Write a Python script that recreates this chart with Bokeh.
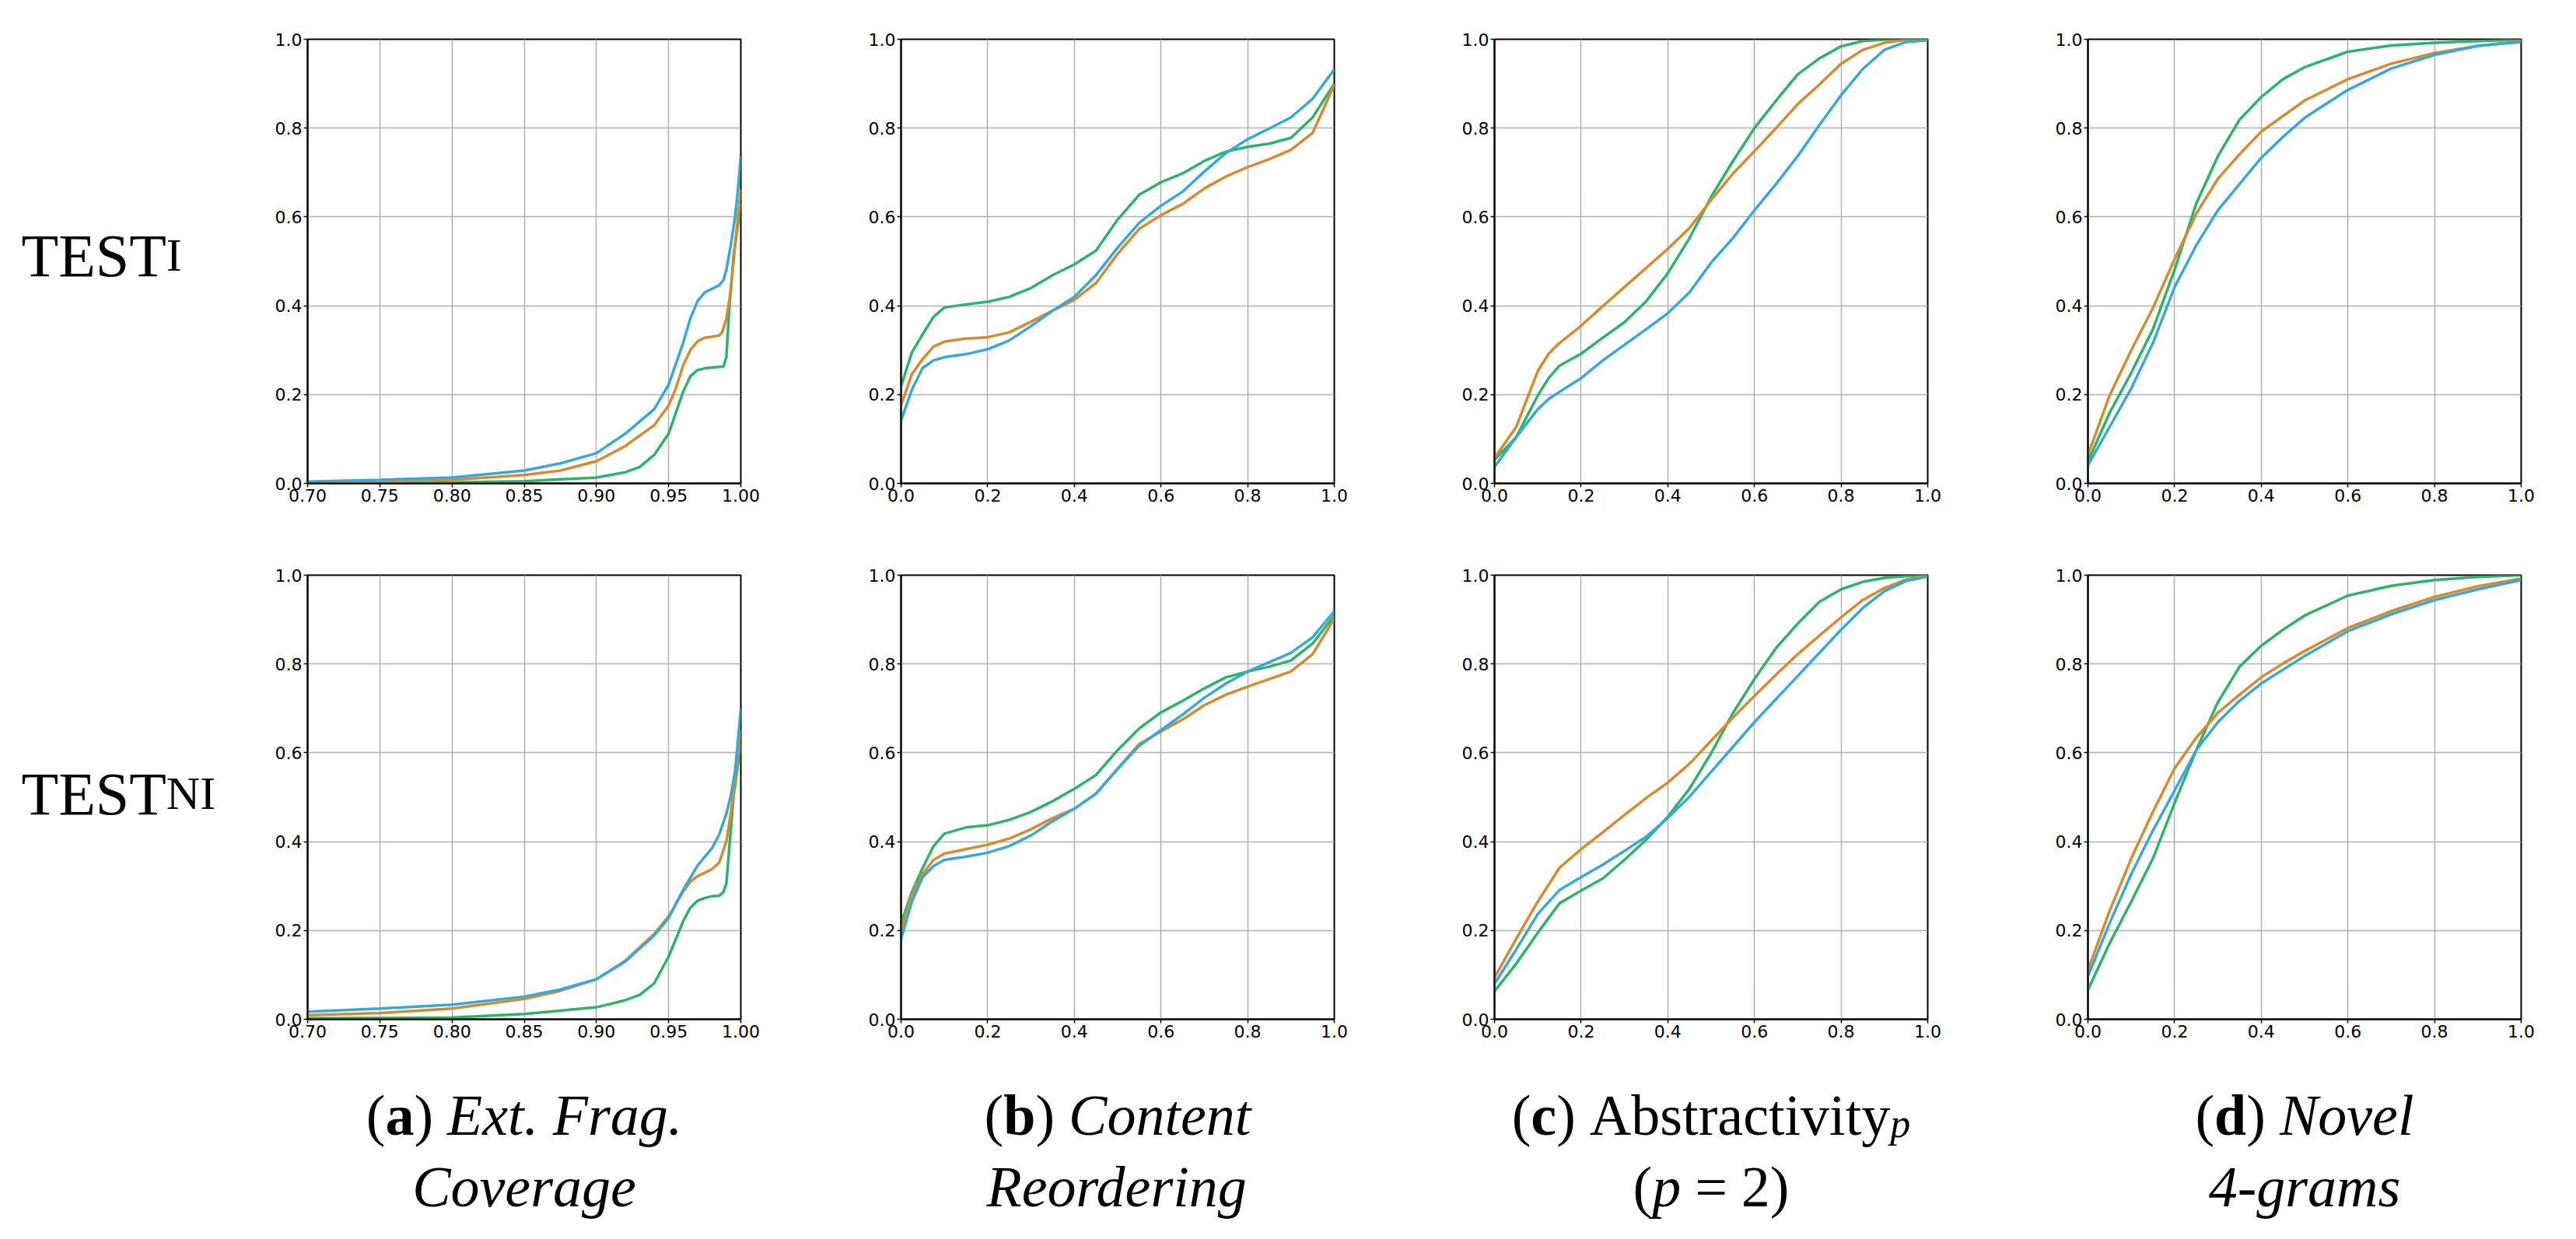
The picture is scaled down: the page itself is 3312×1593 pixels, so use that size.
from bokeh.plotting import figure
from bokeh.layouts import column, row
from bokeh.models import Range1d, FixedTicker, Label, NumeralTickFormatter
from bokeh.embed import file_html
from bokeh.resources import INLINE

# ---------------- data ----------------
ROW_LABELS = [("TEST", "I"), ("TEST", "NI")]

# (a) Ext. Frag. Coverage, TEST_I
a1_green_x = [0.70, 0.80, 0.85, 0.875, 0.90, 0.92, 0.93, 0.94, 0.95, 0.955, 0.96, 0.965, 0.97, 0.975, 0.98, 0.988, 0.99, 0.992, 0.995, 1.0]
a1_green_y = [0.0, 0.002, 0.005, 0.009, 0.013, 0.025, 0.037, 0.064, 0.112, 0.159, 0.206, 0.241, 0.255, 0.259, 0.261, 0.263, 0.285, 0.395, 0.513, 0.631]
a1_orange_x = [0.70, 0.75, 0.80, 0.85, 0.875, 0.90, 0.92, 0.94, 0.95, 0.955, 0.96, 0.965, 0.97, 0.975, 0.98, 0.985, 0.987, 0.99, 0.993, 0.996, 1.0]
a1_orange_y = [0.0, 0.003, 0.008, 0.019, 0.029, 0.050, 0.084, 0.131, 0.175, 0.214, 0.265, 0.300, 0.320, 0.328, 0.330, 0.333, 0.340, 0.371, 0.434, 0.536, 0.662]
a1_blue_x = [0.70, 0.75, 0.80, 0.85, 0.875, 0.90, 0.92, 0.94, 0.95, 0.96, 0.965, 0.97, 0.975, 0.98, 0.985, 0.988, 0.99, 0.993, 0.996, 0.998, 1.0]
a1_blue_y = [0.004, 0.008, 0.013, 0.029, 0.045, 0.068, 0.112, 0.167, 0.222, 0.316, 0.371, 0.410, 0.430, 0.438, 0.446, 0.458, 0.481, 0.536, 0.599, 0.662, 0.737]

# (a) Ext. Frag. Coverage, TEST_NI
a2_green_x = [0.70, 0.80, 0.85, 0.90, 0.92, 0.93, 0.94, 0.95, 0.96, 0.965, 0.97, 0.975, 0.98, 0.985, 0.988, 0.99, 0.992, 0.995, 1.0]
a2_green_y = [0.002, 0.004, 0.012, 0.027, 0.043, 0.055, 0.081, 0.141, 0.220, 0.251, 0.267, 0.273, 0.277, 0.278, 0.287, 0.306, 0.385, 0.503, 0.621]
a2_orange_x = [0.70, 0.75, 0.80, 0.85, 0.875, 0.90, 0.92, 0.94, 0.95, 0.96, 0.965, 0.97, 0.975, 0.98, 0.985, 0.99, 0.993, 0.996, 1.0]
a2_orange_y = [0.009, 0.014, 0.024, 0.046, 0.064, 0.090, 0.132, 0.192, 0.232, 0.287, 0.310, 0.322, 0.330, 0.338, 0.353, 0.401, 0.463, 0.542, 0.652]
a2_blue_x = [0.70, 0.75, 0.80, 0.85, 0.875, 0.90, 0.92, 0.94, 0.95, 0.96, 0.97, 0.98, 0.985, 0.99, 0.993, 0.996, 1.0]
a2_blue_y = [0.017, 0.024, 0.033, 0.051, 0.067, 0.090, 0.130, 0.189, 0.228, 0.291, 0.346, 0.385, 0.416, 0.463, 0.503, 0.558, 0.699]

# (b) Content Reordering
b_x = [0, 0.025, 0.05, 0.075, 0.1, 0.15, 0.2, 0.25, 0.3, 0.35, 0.4, 0.45, 0.5, 0.55, 0.6, 0.65, 0.7, 0.75, 0.8, 0.85, 0.9, 0.95, 1.0]
b1_green = [0.218, 0.295, 0.336, 0.375, 0.396, 0.403, 0.409, 0.420, 0.440, 0.469, 0.493, 0.524, 0.594, 0.650, 0.678, 0.698, 0.726, 0.747, 0.758, 0.765, 0.778, 0.824, 0.900]
b1_orange = [0.176, 0.246, 0.280, 0.308, 0.319, 0.326, 0.329, 0.340, 0.364, 0.389, 0.413, 0.451, 0.517, 0.573, 0.604, 0.629, 0.664, 0.691, 0.712, 0.730, 0.751, 0.789, 0.897]
b1_blue = [0.141, 0.211, 0.260, 0.277, 0.284, 0.291, 0.302, 0.322, 0.354, 0.389, 0.420, 0.469, 0.531, 0.587, 0.625, 0.657, 0.702, 0.744, 0.775, 0.799, 0.824, 0.866, 0.932]
b2_green = [0.216, 0.286, 0.341, 0.390, 0.418, 0.432, 0.437, 0.449, 0.467, 0.491, 0.519, 0.550, 0.606, 0.655, 0.691, 0.717, 0.745, 0.770, 0.783, 0.794, 0.808, 0.846, 0.909]
b2_orange = [0.202, 0.279, 0.327, 0.359, 0.373, 0.383, 0.393, 0.407, 0.428, 0.453, 0.474, 0.508, 0.564, 0.620, 0.648, 0.675, 0.707, 0.731, 0.749, 0.766, 0.783, 0.822, 0.902]
b2_blue = [0.181, 0.265, 0.320, 0.345, 0.359, 0.366, 0.375, 0.390, 0.414, 0.446, 0.474, 0.508, 0.564, 0.616, 0.651, 0.686, 0.724, 0.756, 0.783, 0.804, 0.825, 0.860, 0.919]

# (c) Abstractivity_p (p = 2)
c1_x = [0, 0.05, 0.1, 0.125, 0.15, 0.2, 0.25, 0.3, 0.35, 0.4, 0.45, 0.5, 0.55, 0.6, 0.65, 0.7, 0.75, 0.8, 0.85, 0.9, 0.95, 1.0]
c1_green = [0.053, 0.104, 0.198, 0.237, 0.265, 0.292, 0.328, 0.363, 0.410, 0.473, 0.552, 0.645, 0.725, 0.800, 0.862, 0.921, 0.957, 0.984, 0.996, 0.999, 1.0, 1.0]
c1_orange = [0.057, 0.127, 0.253, 0.292, 0.316, 0.355, 0.399, 0.442, 0.485, 0.528, 0.575, 0.638, 0.697, 0.748, 0.800, 0.854, 0.898, 0.945, 0.976, 0.992, 0.999, 1.0]
c1_blue = [0.037, 0.104, 0.167, 0.190, 0.206, 0.237, 0.277, 0.312, 0.347, 0.383, 0.430, 0.497, 0.552, 0.615, 0.674, 0.737, 0.807, 0.874, 0.933, 0.976, 0.994, 0.998]
c2_x = [0, 0.05, 0.1, 0.15, 0.2, 0.25, 0.3, 0.35, 0.4, 0.45, 0.5, 0.55, 0.6, 0.65, 0.7, 0.75, 0.8, 0.85, 0.9, 0.95, 1.0]
c2_green = [0.063, 0.125, 0.195, 0.261, 0.290, 0.317, 0.359, 0.404, 0.456, 0.519, 0.599, 0.689, 0.766, 0.836, 0.891, 0.940, 0.968, 0.985, 0.994, 0.998, 1.0]
c2_orange = [0.094, 0.181, 0.265, 0.341, 0.383, 0.421, 0.460, 0.498, 0.533, 0.575, 0.627, 0.679, 0.728, 0.776, 0.822, 0.864, 0.905, 0.944, 0.971, 0.990, 1.0]
c2_blue = [0.080, 0.157, 0.237, 0.291, 0.320, 0.348, 0.379, 0.411, 0.453, 0.501, 0.557, 0.613, 0.669, 0.721, 0.773, 0.825, 0.877, 0.926, 0.964, 0.987, 0.997]

# (d) Novel 4-grams
d_x = [0, 0.05, 0.1, 0.15, 0.2, 0.25, 0.3, 0.35, 0.4, 0.45, 0.5, 0.6, 0.7, 0.8, 0.9, 1.0]
d1_green = [0.049, 0.159, 0.249, 0.347, 0.481, 0.630, 0.737, 0.819, 0.870, 0.910, 0.937, 0.972, 0.986, 0.992, 0.996, 0.999]
d1_orange = [0.064, 0.198, 0.300, 0.395, 0.505, 0.607, 0.686, 0.741, 0.792, 0.827, 0.862, 0.910, 0.945, 0.969, 0.985, 0.996]
d1_blue = [0.041, 0.127, 0.214, 0.316, 0.442, 0.536, 0.615, 0.674, 0.733, 0.780, 0.823, 0.886, 0.934, 0.965, 0.985, 0.994]
d2_green = [0.066, 0.171, 0.265, 0.362, 0.487, 0.606, 0.714, 0.794, 0.841, 0.877, 0.909, 0.954, 0.976, 0.989, 0.996, 1.0]
d2_orange = [0.111, 0.244, 0.362, 0.467, 0.565, 0.634, 0.690, 0.731, 0.770, 0.801, 0.829, 0.881, 0.919, 0.951, 0.975, 0.992]
d2_blue = [0.097, 0.216, 0.327, 0.425, 0.515, 0.606, 0.669, 0.717, 0.756, 0.787, 0.818, 0.874, 0.912, 0.944, 0.968, 0.989]

A_TICKS = [0.70, 0.75, 0.80, 0.85, 0.90, 0.95, 1.00]
UNIT_TICKS = [0.0, 0.2, 0.4, 0.6, 0.8, 1.0]

# ---------------- style ----------------
GREEN = "#2fb26a"
ORANGE = "#d48c32"
BLUE = "#3aa8d6"
GRID = "#b0b0b0"
TICK_FONT = "DejaVu Sans"
SERIF = "Liberation Serif"

FRAME_W = 557
FRAME_H = 571
LEFT_B = 95
COL_W = 763
LAST_W = LEFT_B + FRAME_W + 40
LABEL_W = 300


def make_plot(series, xr, xticks, xfmt, top_b, width, right_b):
    p = figure(width=width, height=top_b + FRAME_H + 60,
               x_range=Range1d(*xr), y_range=Range1d(0, 1),
               output_backend="svg", toolbar_location=None, title=None,
               min_border_left=LEFT_B, min_border_right=right_b,
               min_border_top=top_b, min_border_bottom=60)
    for xs, ys, col in series:
        p.line(xs, ys, line_color=col, line_width=3.5)
    p.xaxis.ticker = FixedTicker(ticks=xticks, minor_ticks=[])
    p.yaxis.ticker = FixedTicker(ticks=UNIT_TICKS, minor_ticks=[])
    p.xaxis.formatter = NumeralTickFormatter(format=xfmt)
    p.yaxis.formatter = NumeralTickFormatter(format="0.0")
    for ax in (p.xaxis, p.yaxis):
        ax.major_label_text_font = TICK_FONT
        ax.major_label_text_font_size = "22px"
        ax.major_label_text_color = "black"
        ax.major_tick_out = 5
        ax.major_tick_in = 0
        ax.minor_tick_out = 0
        ax.minor_tick_in = 0
        ax.major_tick_line_color = "black"
        ax.major_tick_line_width = 1.5
        ax.axis_line_color = "black"
        ax.axis_line_width = 2
        ax.major_label_standoff = 2
    p.grid.grid_line_color = GRID
    p.grid.grid_line_width = 1.5
    p.outline_line_color = "black"
    p.outline_line_width = 2
    p.background_fill_color = "white"
    p.border_fill_color = "white"
    return p


def make_blank(width, height):
    f = figure(width=width, height=height, x_range=Range1d(0, width),
               y_range=Range1d(0, height), output_backend="svg",
               toolbar_location=None, x_axis_type=None, y_axis_type=None,
               min_border=0, title=None)
    f.grid.visible = False
    f.outline_line_color = None
    f.background_fill_color = "white"
    f.border_fill_color = "white"
    return f


# Times / Liberation Serif advance widths (per 1000 em)
REG = {" ": 250, "(": 333, ")": 333, "A": 722, "b": 500, "s": 389, "t": 278, "r": 333,
       "a": 444, "c": 444, "i": 278, "v": 500, "y": 500, "=": 564, "2": 500, "p": 500,
       "d": 500, "T": 611, "E": 611, "S": 556, "I": 333, "N": 722}
ITA = {"E": 611, "x": 444, "t": 278, ".": 250, " ": 250, "F": 611, "r": 389, "a": 500,
       "g": 500, "C": 667, "o": 500, "n": 500, "e": 444, "R": 611, "d": 500, "i": 278,
       "N": 667, "v": 444, "l": 278, "4": 500, "-": 333, "m": 722, "s": 389, "p": 500}
BOLD = {"a": 500, "b": 556, "c": 444, "d": 556}


def text_w(txt, style, size):
    if style == "gap":
        return size
    table = {"normal": REG, "italic": ITA, "bold": BOLD}[style]
    return sum(table.get(ch, 500) for ch in txt) / 1000.0 * size


def place_pieces(fig, pieces, cx, base_y, size):
    def w(piece):
        t, st, sz, dy = piece
        return text_w(t, st, sz if sz else size)
    total = sum(w(pc) for pc in pieces)
    x = cx - total / 2.0
    for pc in pieces:
        t, st, sz, dy = pc
        s = sz if sz else size
        if st != "gap":
            fig.add_layout(Label(x=x, y=base_y + dy, text=t, text_font=SERIF,
                                 text_font_style=st, text_font_size=f"{s}px",
                                 text_color="black", text_baseline="alphabetic",
                                 text_align="left"))
        x += w(pc)


# ---------------- build ----------------
panels = [
    [
        ([(a1_green_x, a1_green_y, GREEN), (a1_orange_x, a1_orange_y, ORANGE), (a1_blue_x, a1_blue_y, BLUE)], (0.7, 1.0), A_TICKS, "0.00"),
        ([(b_x, b1_green, GREEN), (b_x, b1_orange, ORANGE), (b_x, b1_blue, BLUE)], (0, 1), UNIT_TICKS, "0.0"),
        ([(c1_x, c1_green, GREEN), (c1_x, c1_orange, ORANGE), (c1_x, c1_blue, BLUE)], (0, 1), UNIT_TICKS, "0.0"),
        ([(d_x, d1_green, GREEN), (d_x, d1_orange, ORANGE), (d_x, d1_blue, BLUE)], (0, 1), UNIT_TICKS, "0.0"),
    ],
    [
        ([(a2_green_x, a2_green_y, GREEN), (a2_orange_x, a2_orange_y, ORANGE), (a2_blue_x, a2_blue_y, BLUE)], (0.7, 1.0), A_TICKS, "0.00"),
        ([(b_x, b2_green, GREEN), (b_x, b2_orange, ORANGE), (b_x, b2_blue, BLUE)], (0, 1), UNIT_TICKS, "0.0"),
        ([(c2_x, c2_green, GREEN), (c2_x, c2_orange, ORANGE), (c2_x, c2_blue, BLUE)], (0, 1), UNIT_TICKS, "0.0"),
        ([(d_x, d2_green, GREEN), (d_x, d2_orange, ORANGE), (d_x, d2_blue, BLUE)], (0, 1), UNIT_TICKS, "0.0"),
    ],
]

rows = []
for r, top_b in enumerate([50, 58]):
    h = top_b + FRAME_H + 60
    lab = make_blank(LABEL_W, h)
    big, small = ROW_LABELS[r]
    lab.add_layout(Label(x=27, y=350, text=big, text_font=SERIF, text_font_size="78px",
                         text_color="black", text_baseline="alphabetic"))
    lab.add_layout(Label(x=27 + text_w(big, "normal", 78), y=350, text=small, text_font=SERIF,
                         text_font_size="60px", text_color="black", text_baseline="alphabetic"))
    figs = [lab]
    for c, (series, xr, xt, fmt) in enumerate(panels[r]):
        w = COL_W if c < 3 else LAST_W
        rb = COL_W - LEFT_B - FRAME_W if c < 3 else 40
        figs.append(make_plot(series, xr, xt, fmt, top_b, w, rb))
    rows.append(row(*figs))

CAP_W = LABEL_W + 3 * COL_W + LAST_W
CAP_H = 205
cap = make_blank(CAP_W, CAP_H)
FS = 74
SUB = 52
centers = [LABEL_W + LEFT_B + FRAME_W / 2 + i * COL_W for i in range(4)]
captions = [
    ([("(", "normal", None, 0), ("a", "bold", None, 0), (")", "normal", None, 0), ("", "gap", 18, 0), ("Ext. Frag.", "italic", None, 0)],
     [("Coverage", "italic", None, 0)]),
    ([("(", "normal", None, 0), ("b", "bold", None, 0), (")", "normal", None, 0), ("", "gap", 18, 0), ("Content", "italic", None, 0)],
     [("Reordering", "italic", None, 0)]),
    ([("(", "normal", None, 0), ("c", "bold", None, 0), (")", "normal", None, 0), ("", "gap", 18, 0), ("Abstractivity", "normal", None, 0), ("p", "italic", SUB, -11)],
     [("(", "normal", None, 0), ("p", "italic", None, 0), ("", "gap", 18, 0), ("=", "normal", None, 0), ("", "gap", 18, 0), ("2)", "normal", None, 0)]),
    ([("(", "normal", None, 0), ("d", "bold", None, 0), (")", "normal", None, 0), ("", "gap", 18, 0), ("Novel", "italic", None, 0)],
     [("4-grams", "italic", None, 0)]),
]
for cx, (l1, l2) in zip(centers, captions):
    place_pieces(cap, l1, cx, 142, FS)
    place_pieces(cap, l2, cx, 50, FS)

layout = column(rows[0], rows[1], cap)

open("out.html", "w").write(file_html(layout, INLINE))
